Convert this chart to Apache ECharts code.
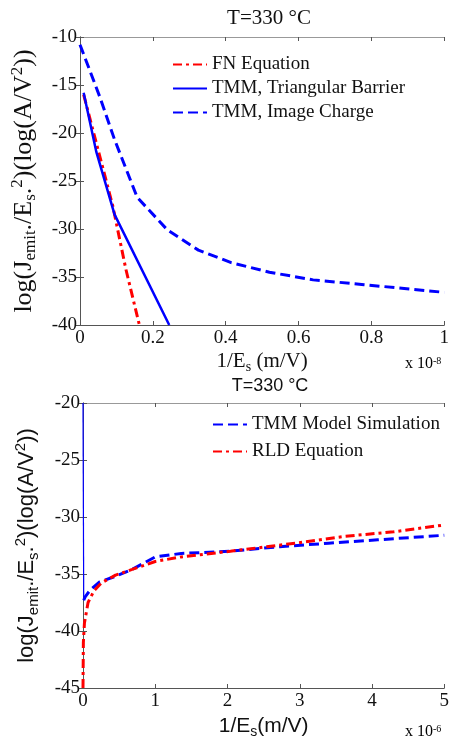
<!DOCTYPE html>
<html><head><meta charset="utf-8">
<script src="https://cdn.jsdelivr.net/npm/echarts@6/dist/echarts.min.js"></script>
<style>html,body{margin:0;padding:0;background:#fff}#c{width:452px;height:740px}</style>
</head><body><div id="c"></div>
<script>
// ---- Top chart data (x in units of 1e-8 m/V) ----
var topTitle = 'T=330 \u00B0C';
var topXTicks = [0, 0.2, 0.4, 0.6, 0.8, 1];
var topYTicks = [-40, -35, -30, -25, -20, -15, -10];
var fnName = 'FN Equation';
var fnX = [0.01, 0.05, 0.09, 0.126, 0.163];
var fnY = [-16, -21.8, -27.6, -34.2, -40];
var triName = 'TMM, Triangular Barrier';
var triX = [0.01, 0.045, 0.095, 0.245];
var triY = [-15.8, -22, -28.5, -40];
var imgName = 'TMM, Image Charge';
var imgX = [0, 0.054, 0.095, 0.157, 0.24, 0.325, 0.415, 0.52, 0.64, 0.78, 0.89, 1.0];
var imgY = [-10.8, -16.2, -20.7, -26.7, -30.1, -32.2, -33.5, -34.5, -35.3, -35.8, -36.2, -36.6];

// ---- Bottom chart data (x in units of 1e-6 m/V) ----
var botTitle = 'T=330 \u00B0C';
var botXTicks = [0, 1, 2, 3, 4, 5];
var botYTicks = [-45, -40, -35, -30, -25, -20];
var tmmName = 'TMM Model Simulation';
var tmmLeadX = [0, 0.01];
var tmmLeadY = [-20, -37.3];
var tmmX = [0.01, 0.03, 0.1, 0.23, 0.45, 0.68, 1.0, 1.36, 2.04, 2.72, 3.4, 4.08, 5.0];
var tmmY = [-37.3, -37.0, -36.4, -35.7, -35.2, -34.6, -33.5, -33.2, -33.0, -32.6, -32.3, -32.0, -31.6];
var rldName = 'RLD Equation';
var rldX = [0, 0.005, 0.02, 0.07, 0.15, 0.25, 0.45, 0.68, 1.0, 1.36, 2.04, 2.94, 3.62, 4.3, 5.0];
var rldY = [-45, -41, -39.3, -37.5, -36.5, -35.8, -35.1, -34.6, -33.9, -33.5, -33.0, -32.3, -31.7, -31.3, -30.7];

function pairs(xs, ys) { return xs.map(function (x, i) { return [x, ys[i]]; }); }

var SERIF = '"Liberation Serif","DejaVu Serif",serif';
var SANS = '"Liberation Sans",Arial,sans-serif';
var RED = '#ff0000', BLUE = '#0000ff', AX = '#555';

function richSet(ff, big, small, lh) {
  return {
    n: {fontFamily: ff, fontSize: big, color: '#111', lineHeight: lh},
    sub: {fontFamily: ff, fontSize: small, color: '#111', lineHeight: small + 1, verticalAlign: 'bottom'},
    sup: {fontFamily: ff, fontSize: small, color: '#111', lineHeight: small + 1, verticalAlign: 'top'}
  };
}
var yNameStr = '{n|log(J}{sub|emit}{n|./E}{sub|s}{n|.}{sup|2}{n|)(log(A/V}{sup|2}{n|))}';

function mainX(gi, mn, mx, iv, ff, nameStr, gap) {
  return {
    type: 'value', gridIndex: gi, min: mn, max: mx, interval: iv, position: 'bottom',
    axisLine: {show: true, lineStyle: {color: AX, width: 1}},
    axisTick: {show: true, inside: true, length: 4, lineStyle: {color: AX}},
    splitLine: {show: false},
    axisLabel: {fontFamily: SERIF, fontSize: 19, color: '#111', margin: 4},
    name: nameStr, nameLocation: 'middle', nameGap: gap,
    nameTextStyle: {rich: richSet(ff, 21, 14, 26)}
  };
}
function boxX(gi, mn, mx, iv) {
  return {
    type: 'value', gridIndex: gi, min: mn, max: mx, interval: iv, position: 'top',
    axisLine: {show: true, lineStyle: {color: '#999', width: 1}},
    axisTick: {show: true, inside: true, length: 4, lineStyle: {color: AX}},
    splitLine: {show: false}, axisLabel: {show: false}
  };
}
function mainY(gi, mn, mx, iv, ff, big, small, lh, gap) {
  return {
    type: 'value', gridIndex: gi, min: mn, max: mx, interval: iv, position: 'left',
    axisLine: {show: true, lineStyle: {color: AX, width: 1}},
    axisTick: {show: true, inside: true, length: 4, lineStyle: {color: AX}},
    splitLine: {show: false},
    axisLabel: {fontFamily: SERIF, fontSize: 19, color: '#111', margin: 3},
    name: yNameStr, nameLocation: 'middle', nameRotate: 90, nameGap: gap,
    nameTextStyle: {rich: richSet(ff, big, small, lh)}
  };
}
function boxY(gi, mn, mx, iv) {
  return {
    type: 'value', gridIndex: gi, min: mn, max: mx, interval: iv, position: 'right',
    axisLine: {show: true, lineStyle: {color: AX, width: 1}},
    axisTick: {show: true, inside: true, length: 4, lineStyle: {color: AX}},
    splitLine: {show: false}, axisLabel: {show: false}
  };
}

var chart = echarts.init(document.getElementById('c'), null, {renderer: 'canvas'});
var dashDot = [9, 4, 3, 4];
var dashed = [10, 5];
chart.setOption({
  animation: false,
  backgroundColor: '#fff',
  title: [
    {text: topTitle, left: 264, top: 3, textAlign: 'center',
     textStyle: {fontFamily: SERIF, fontSize: 21, fontWeight: 'normal', color: '#111'}},
    {text: botTitle, left: 265, top: 372, textAlign: 'center',
     textStyle: {fontFamily: SANS, fontSize: 18, fontWeight: 'normal', color: '#111'}}
  ],
  grid: [
    {left: 80, right: 4, top: 37, height: 288},
    {left: 83, right: 1, top: 403, height: 288}
  ],
  xAxis: [
    mainX(0, topXTicks[0], topXTicks[topXTicks.length - 1], 0.2, SERIF, '{n|1/E}{sub|s}{n| (m/V)}', 23),
    boxX(0, topXTicks[0], topXTicks[topXTicks.length - 1], 0.2),
    mainX(1, botXTicks[0], botXTicks[botXTicks.length - 1], 1, SANS, '{n|1/E}{sub|s}{n|(m/V)}', 25),
    boxX(1, botXTicks[0], botXTicks[botXTicks.length - 1], 1)
  ],
  yAxis: [
    mainY(0, topYTicks[0], topYTicks[topYTicks.length - 1], 5, SERIF, 26, 17, 30, 41),
    boxY(0, topYTicks[0], topYTicks[topYTicks.length - 1], 5),
    mainY(1, botYTicks[0], botYTicks[botYTicks.length - 1], 5, SANS, 22, 15, 28, 42),
    boxY(1, botYTicks[0], botYTicks[botYTicks.length - 1], 5)
  ],
  legend: [
    {data: [fnName, triName, imgName], orient: 'vertical', left: 167, top: 50,
     itemWidth: 34, itemHeight: 14, itemGap: 5, itemStyle: {opacity: 0},
     textStyle: {fontFamily: SERIF, fontSize: 19, color: '#111'}},
    {data: [tmmName, rldName], orient: 'vertical', left: 207, top: 410,
     itemWidth: 34, itemHeight: 14, itemGap: 8, itemStyle: {opacity: 0},
     textStyle: {fontFamily: SERIF, fontSize: 19, color: '#111'}}
  ],
  graphic: [
    {type: 'text', left: 405, top: 356,
     style: {rich: {n: {fontFamily: SERIF, fontSize: 16, color: '#111'},
                    sup: {fontFamily: SERIF, fontSize: 10, color: '#111', verticalAlign: 'top'}},
             text: '{n|x 10}{sup|-8}'}},
    {type: 'text', left: 405, top: 724,
     style: {rich: {n: {fontFamily: SERIF, fontSize: 16, color: '#111'},
                    sup: {fontFamily: SERIF, fontSize: 10, color: '#111', verticalAlign: 'top'}},
             text: '{n|x 10}{sup|-6}'}}
  ],
  series: [
    {name: fnName, type: 'line', xAxisIndex: 0, yAxisIndex: 0, showSymbol: false, symbol: 'none',
     data: pairs(fnX, fnY), lineStyle: {color: RED, width: 3, type: dashDot}, itemStyle: {color: RED}},
    {name: triName, type: 'line', xAxisIndex: 0, yAxisIndex: 0, showSymbol: false, symbol: 'none',
     data: pairs(triX, triY), lineStyle: {color: BLUE, width: 2.5, type: 'solid'}, itemStyle: {color: BLUE}},
    {name: imgName, type: 'line', xAxisIndex: 0, yAxisIndex: 0, showSymbol: false, symbol: 'none',
     data: pairs(imgX, imgY), lineStyle: {color: BLUE, width: 3, type: dashed}, itemStyle: {color: BLUE}},
    {name: tmmName + ' lead', type: 'line', xAxisIndex: 2, yAxisIndex: 2, showSymbol: false, symbol: 'none',
     data: pairs(tmmLeadX, tmmLeadY), lineStyle: {color: BLUE, width: 1.2, type: 'solid'}, itemStyle: {color: BLUE}},
    {name: tmmName, type: 'line', xAxisIndex: 2, yAxisIndex: 2, showSymbol: false, symbol: 'none',
     data: pairs(tmmX, tmmY), lineStyle: {color: BLUE, width: 3, type: dashed}, itemStyle: {color: BLUE}},
    {name: rldName, type: 'line', xAxisIndex: 2, yAxisIndex: 2, showSymbol: false, symbol: 'none',
     data: pairs(rldX, rldY), lineStyle: {color: RED, width: 3, type: dashDot}, itemStyle: {color: RED}}
  ]
});
</script></body></html>
